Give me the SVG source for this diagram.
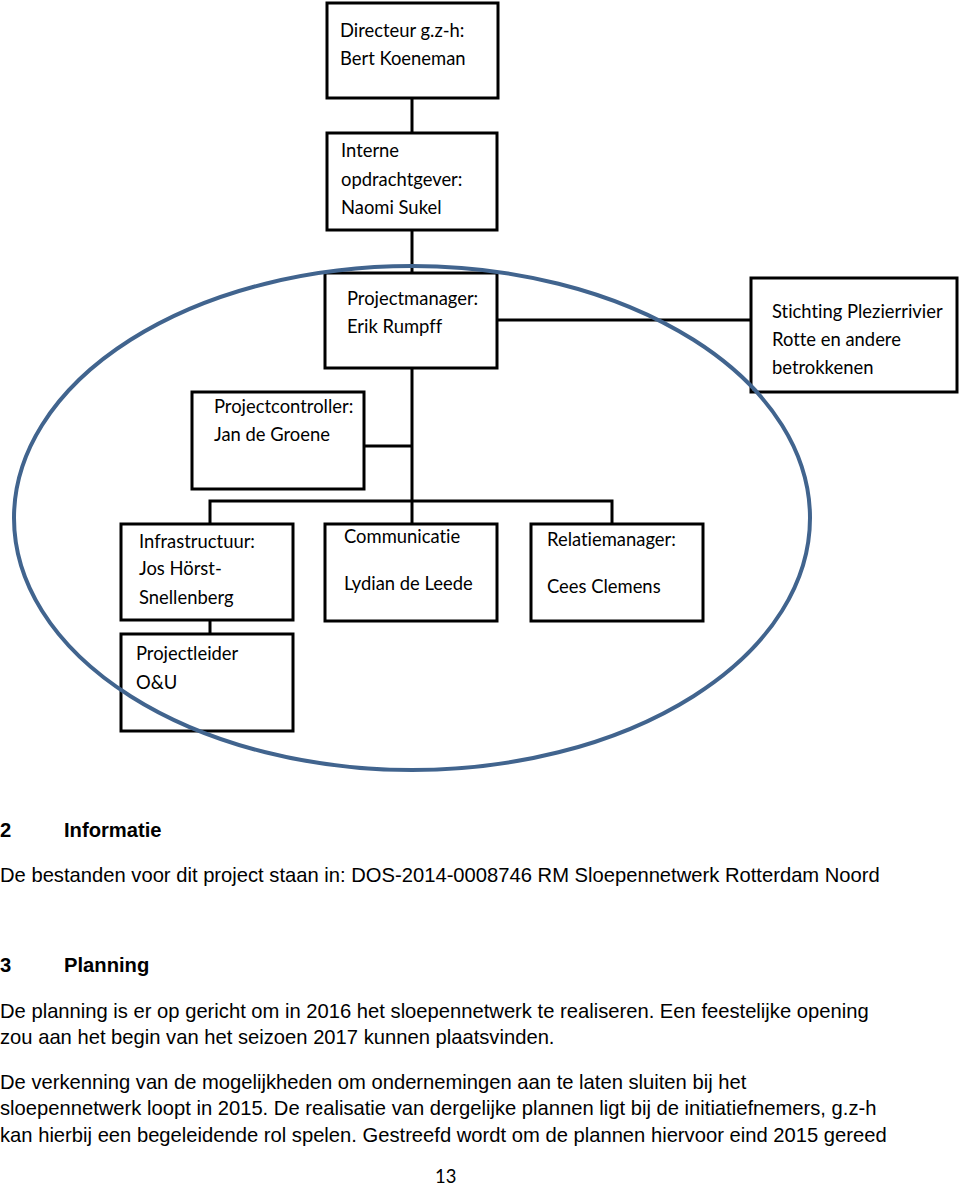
<svg xmlns="http://www.w3.org/2000/svg" width="960" height="1186" viewBox="0 0 960 1186">
<style>
.box{fill:#fff;stroke:#000;stroke-width:3}
.lbl{font-family:Lato,"Open Sans",sans-serif;font-size:18.4px;fill:#000;font-variant-ligatures:none}
.conn{stroke:#000;stroke-width:3;fill:none}
.body{font-family:"Liberation Sans",Arial,sans-serif;font-size:20.2px;fill:#000}
.head{font-family:"Liberation Sans",Arial,sans-serif;font-size:20.2px;font-weight:bold;fill:#000}
</style>
<rect width="960" height="1186" fill="#fff"/>
<g id="connectors">
<line class="conn" x1="412" y1="98" x2="412" y2="133"/>
<line class="conn" x1="412" y1="230" x2="412" y2="273"/>
<line class="conn" x1="497" y1="320" x2="751" y2="320"/>
<line class="conn" x1="412" y1="368" x2="412" y2="524"/>
<line class="conn" x1="364" y1="446" x2="412" y2="446"/>
<polyline class="conn" points="210,524 210,501 612,501 612,524"/>
<line class="conn" x1="210" y1="620" x2="210" y2="634"/>
</g>
<g id="n-directeur"><rect class="box" x="327" y="3" width="171" height="95"/>
<text class="lbl" x="340" y="37">Directeur g.z-h:</text><text class="lbl" x="340" y="65">Bert Koeneman</text></g>
<g id="n-interne"><rect class="box" x="327" y="133" width="170" height="97"/>
<text class="lbl" x="341" y="157">Interne</text><text class="lbl" x="341" y="186">opdrachtgever:</text><text class="lbl" x="341" y="214">Naomi Sukel</text></g>
<g id="n-projectmanager"><rect class="box" x="325" y="273" width="172" height="95"/>
<text class="lbl" x="347" y="305">Projectmanager:</text><text class="lbl" x="347" y="333">Erik Rumpff</text></g>
<g id="n-stichting"><rect class="box" x="751" y="278" width="206" height="114"/>
<text class="lbl" x="772" y="318">Stichting Plezierrivier</text><text class="lbl" x="772" y="346">Rotte en andere</text><text class="lbl" x="772" y="374">betrokkenen</text></g>
<g id="n-projectcontroller"><rect class="box" x="192" y="392" width="172" height="97"/>
<text class="lbl" x="214" y="413">Projectcontroller:</text><text class="lbl" x="214" y="441">Jan de Groene</text></g>
<g id="n-infrastructuur"><rect class="box" x="121" y="524" width="172" height="96"/>
<text class="lbl" x="139" y="548">Infrastructuur:</text><text class="lbl" x="139" y="575">Jos Hörst-</text><text class="lbl" x="139" y="604">Snellenberg</text></g>
<g id="n-communicatie"><rect class="box" x="325" y="524" width="172" height="97"/>
<text class="lbl" x="344" y="543">Communicatie</text><text class="lbl" x="344" y="590">Lydian de Leede</text></g>
<g id="n-relatiemanager"><rect class="box" x="531" y="524" width="172" height="97"/>
<text class="lbl" x="547" y="546">Relatiemanager:</text><text class="lbl" x="547" y="593">Cees Clemens</text></g>
<g id="n-projectleider"><rect class="box" x="121" y="634" width="172" height="97"/>
<text class="lbl" x="136" y="660">Projectleider</text><text class="lbl" x="136" y="689">O&amp;U</text></g>
<ellipse cx="412" cy="518" rx="398" ry="252" fill="none" stroke="#41648e" stroke-width="4"/>
<text class="head" x="0" y="837">2</text><text class="head" x="64" y="837">Informatie</text>
<text class="body" x="0" y="882">De bestanden voor dit project staan in: DOS-2014-0008746 RM Sloepennetwerk Rotterdam Noord</text>
<text class="head" x="0" y="972">3</text><text class="head" x="64" y="972">Planning</text>
<text class="body" x="0" y="1018">De planning is er op gericht om in 2016 het sloepennetwerk te realiseren. Een feestelijke opening</text>
<text class="body" x="0" y="1044">zou aan het begin van het seizoen 2017 kunnen plaatsvinden.</text>
<text class="body" x="0" y="1089">De verkenning van de mogelijkheden om ondernemingen aan te laten sluiten bij het</text>
<text class="body" x="0" y="1115">sloepennetwerk loopt in 2015. De realisatie van dergelijke plannen ligt bij de initiatiefnemers, g.z-h</text>
<text class="body" x="0" y="1142">kan hierbij een begeleidende rol spelen. Gestreefd wordt om de plannen hiervoor eind 2015 gereed</text>
<text class="lbl" x="435" y="1183">13</text>
</svg>
